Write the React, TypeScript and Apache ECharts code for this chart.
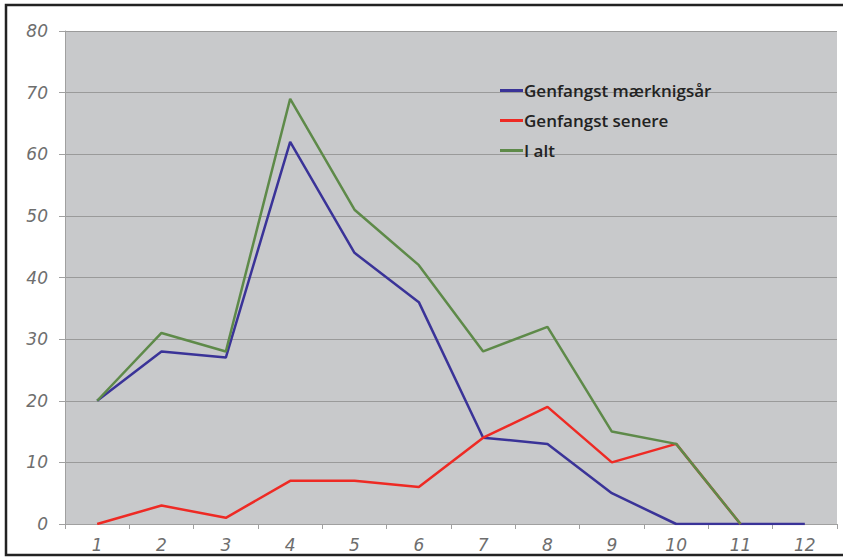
import React, { useEffect, useRef } from "react";
import * as echarts from "echarts";

const categories = ["1", "2", "3", "4", "5", "6", "7", "8", "9", "10", "11", "12"];
const markYear = [20, 28, 27, 62, 44, 36, 14, 13, 5, 0, 0, 0];
const later = [0, 3, 1, 7, 7, 6, 14, 19, 10, 13, 0];
const total = [20, 31, 28, 69, 51, 42, 28, 32, 15, 13, 0];
const seriesNames = ["Genfangst mærknigsår", "Genfangst senere", "I alt"];
const colors = ["#3a3398", "#ee2a24", "#5e8a49"];

export default function App() {
  const ref = useRef<HTMLDivElement>(null);
  useEffect(() => {
    const chart = echarts.init(ref.current!, null, { renderer: "svg" });
    const axisLabel = {
      fontStyle: "italic" as const,
      fontFamily: "DejaVu Sans",
      fontWeight: "normal" as const,
      fontSize: 17,
      color: "#6e6e6e",
    };
    chart.setOption({
      animation: false,
      backgroundColor: "#fff",
      grid: {
        left: 65,
        top: 31,
        right: 6,
        bottom: 33,
        show: true,
        backgroundColor: "#c8c9cb",
        borderWidth: 0,
      },
      legend: {
        show: true,
        left: 495,
        top: 77,
        orient: "vertical",
        itemWidth: 23,
        itemHeight: 3,
        itemGap: 13,
        icon: "rect",
        textStyle: {
          fontFamily: "Open Sans",
          fontSize: 17,
          fontWeight: 600 as any,
          color: "#222",
          padding: [0, 0, 0, -4],
        },
        data: seriesNames,
      },
      xAxis: {
        type: "category",
        data: categories,
        boundaryGap: true,
        axisLine: { lineStyle: { color: "#a0a0a0", width: 1 } },
        axisTick: { show: true, length: 5, lineStyle: { color: "#a0a0a0" } },
        axisLabel: { ...axisLabel, margin: 12 },
        splitLine: { show: false },
      },
      yAxis: {
        type: "value",
        min: 0,
        max: 80,
        interval: 10,
        axisLine: { show: true, lineStyle: { color: "#a0a0a0", width: 1 } },
        axisTick: { show: true, length: 6, lineStyle: { color: "#a0a0a0" } },
        axisLabel: { ...axisLabel, margin: 17 },
        splitLine: { show: true, lineStyle: { color: "#9a9a9a", width: 1 } },
      },
      graphic: [
        {
          type: "rect",
          shape: { x: 6, y: 5, width: 850, height: 550 },
          style: { fill: "none", stroke: "#222", lineWidth: 2.5 },
          silent: true,
          z: 100,
        },
      ],
      series: [
        { name: seriesNames[0], data: markYear },
        { name: seriesNames[1], data: later },
        { name: seriesNames[2], data: total },
      ].map((s, i) => ({
        ...s,
        type: "line",
        symbol: "none",
        color: colors[i],
        lineStyle: { width: 2.5, color: colors[i] },
      })),
    });
    return () => chart.dispose();
  }, []);
  return (
    <div style={{ position: "absolute", left: 0, top: 0, width: 843, height: 557, overflow: "hidden" }}>
      <div ref={ref} style={{ width: 843, height: 557 }} />
    </div>
  );
}
